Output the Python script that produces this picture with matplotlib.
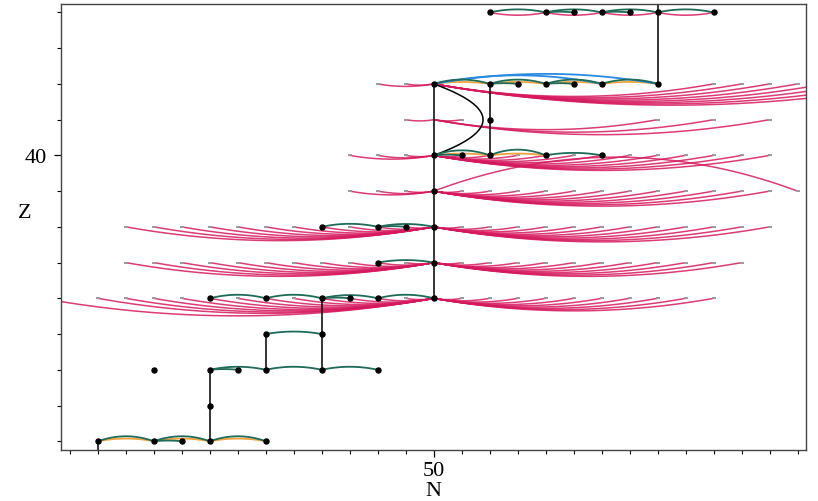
import numpy as np
import matplotlib

matplotlib.use("Agg")
import matplotlib.pyplot as plt

plt.rcParams["font.family"] = ["Liberation Serif", "DejaVu Serif"]

# nuclei shown as black dots
dot_n = [38, 40, 41, 42, 44, 42, 40, 42, 43, 44, 46, 48, 44, 46,
         42, 44, 46, 47, 48, 50, 48, 50, 46, 48, 49, 50, 50,
         50, 51, 52, 54, 56, 52, 50, 52, 53, 54, 55, 56, 58,
         52, 54, 55, 56, 57, 58, 60]
dot_z = [32, 32, 32, 32, 32, 33, 34, 34, 34, 34, 34, 34, 35, 35,
         36, 36, 36, 36, 36, 36, 37, 37, 38, 38, 38, 38, 39,
         40, 40, 40, 40, 40, 41, 42, 42, 42, 42, 42, 42, 42,
         44, 44, 44, 44, 44, 44, 44]

# vertical black links (N, Z from, Z to)
vline_n = [38, 42, 44, 46, 50, 52, 58]
vline_z0 = [31.0, 32, 34, 34, 36, 40, 42]
vline_z1 = [32, 34, 35, 36, 42, 42, 45.0]

# green arcs (Z, N from, N to, height)
green_z = [32, 32, 32, 32, 34, 34, 34, 34, 35, 36, 36, 36, 36, 36, 37,
           38, 38, 38, 40, 40, 40, 40, 42, 42, 42, 42, 42, 42,
           44, 44, 44, 44, 44, 44]
green_a = [38, 40, 42, 40, 42, 44, 46, 42, 44, 42, 44, 46, 48, 46, 48,
           46, 48, 48, 50, 52, 54, 50, 50, 52, 54, 56, 52, 54,
           52, 54, 56, 58, 54, 56]
green_b = [40, 42, 44, 41, 44, 46, 48, 43, 46, 44, 46, 48, 50, 47, 50,
           48, 50, 49, 52, 54, 56, 51, 52, 54, 56, 58, 53, 55,
           54, 56, 58, 60, 55, 57]
green_h = [0.14, 0.14, 0.14, 0.02, 0.085, 0.085, 0.085, 0.02, 0.07,
           0.1, 0.1, 0.09, 0.1, 0.02, 0.07, 0.085, 0.08, 0.02,
           0.14, 0.16, 0.07, 0.02, 0.12, 0.12, 0.12, 0.12, 0.02, 0.02,
           0.085, 0.085, 0.085, 0.085, 0.02, 0.02]

# orange arcs
orange_z = [32, 32, 32, 40, 40, 42, 42, 42, 42]
orange_a = [38, 40, 42, 50, 52, 50, 52, 54, 56]
orange_b = [40, 42, 44, 52, 54, 52, 54, 56, 58]
orange_h = [0.075, 0.075, 0.075, 0.05, 0.05, 0.055, 0.055, 0.055, 0.055]

# blue arcs
blue_z = [42, 42]
blue_a = [50, 50]
blue_b = [58, 56]
blue_h = [0.28, 0.24]

# pink arcs: every row links N=50 with its neighbours
pink_z = [36, 37, 38, 39, 40, 41, 42]
pink_left = [
    [36, 38, 39, 40, 41, 42, 43, 44, 45, 46, 47, 48, 49],
    [39, 40, 41, 42, 43, 44, 45, 46, 47, 48, 49],
    [39, 40, 41, 42, 43, 44, 45, 46, 47, 48, 49],
    [47, 48, 49],
    [47, 48, 49],
    [49],
    [48, 49],
]
pink_right = [
    [51, 52, 53, 54, 55, 56, 57, 58, 59, 60],
    [51, 52, 53, 54, 55, 56, 57, 58, 59, 60, 61],
    [51, 52, 53, 54, 55, 56, 57, 58, 59, 60, 61, 62],
    [51, 52, 53, 54, 55, 56, 57, 58, 59, 60, 61, 62],
    [51, 52, 53, 54, 55, 56, 57, 58, 59, 60, 61, 62],
    [51, 58, 60, 62],
    [60, 61, 62, 63, 64, 65, 66, 67],
]
pink_hub = 50
pink_sag = 0.035  # Z units per unit of N

# pink arcs in the top row
pink_top_a = [52, 54, 56, 58]
pink_top_b = [54, 56, 58, 60]

# the one reversed arc in row 39
back_arc = (39, 63, 50, 0.95)

GREEN = "#1d6b58"
ORANGE = "#f2a23c"
BLUE = "#2a8ae2"
PINK = "#d6195e"


def arc(ax, n0, n1, z, h, **kw):
    n = np.linspace(n0, n1, 80)
    m, half = (n0 + n1) / 2, abs(n1 - n0) / 2
    ax.plot(n, z + h * (1 - ((n - m) / half) ** 2), **kw)


fig = plt.figure(figsize=(8.18, 5.02), dpi=100)
ax = fig.add_axes([61 / 818, 1 - 450.5 / 502, 745 / 818, 446 / 502])

pink_kw = dict(color=PINK, lw=1.1, alpha=0.85, solid_capstyle="butt")
ends_n, ends_z = [], []
for z, left, right in zip(pink_z, pink_left, pink_right):
    for n in left:
        arc(ax, n, pink_hub, z, -pink_sag * (pink_hub - n), **pink_kw)
        ends_n.append(n)
        ends_z.append(z)
    for n in right:
        arc(ax, pink_hub, n, z, -pink_sag * (n - pink_hub), **pink_kw)
        ends_n.append(n)
        ends_z.append(z)
for a, b in zip(pink_top_a, pink_top_b):
    arc(ax, a, b, 44, -pink_sag * (b - a) * 1.1, **pink_kw)
arc(ax, back_arc[1], back_arc[2], back_arc[0], back_arc[3], **pink_kw)
ends_n.append(back_arc[1])
ends_z.append(back_arc[0])
ax.plot(ends_n, ends_z, ls="none", marker="_", ms=3.5, mew=1.4, color="#9a9a9a")

# black bulge between Z=40 and Z=42
zz = np.linspace(40, 42, 80)
ax.plot(50 + 1.76 * (1 - (zz - 41) ** 2), zz, color="black", lw=1.1)

for n, z0, z1 in zip(vline_n, vline_z0, vline_z1):
    ax.plot([n, n], [z0, z1], color="black", lw=1.1)

for z, a, b, h in zip(orange_z, orange_a, orange_b, orange_h):
    arc(ax, a, b, z, h, color=ORANGE, lw=1.3)
for z, a, b, h in zip(blue_z, blue_a, blue_b, blue_h):
    arc(ax, a, b, z, h, color=BLUE, lw=1.3)
for z, a, b, h in zip(green_z, green_a, green_b, green_h):
    arc(ax, a, b, z, h, color=GREEN, lw=1.3)

ax.plot(dot_n, dot_z, ls="none", marker="o", ms=3.6, color="black")

ax.set_xlim(36.68, 63.3)
ax.set_ylim(31.77, 44.25)
ax.set_xticks([50])
ax.set_xticks(np.arange(37, 64), minor=True)
ax.set_yticks([40])
ax.set_yticks(np.arange(32, 45), minor=True)
ax.tick_params(which="major", length=5, width=0.9, labelsize=16)
ax.tick_params(axis="x", which="major", pad=3)
ax.tick_params(axis="y", which="major", pad=5)
ax.tick_params(which="minor", length=3, width=0.8)
for s in ax.spines.values():
    s.set_color("#444444")
    s.set_linewidth(1.0)

fig.text(433 / 818, 1 - 492 / 502, "N", ha="center", va="center", fontsize=16)
fig.text(25 / 818, 1 - 214 / 502, "Z", ha="center", va="center", fontsize=16)

fig.savefig("out.png", dpi=100)
